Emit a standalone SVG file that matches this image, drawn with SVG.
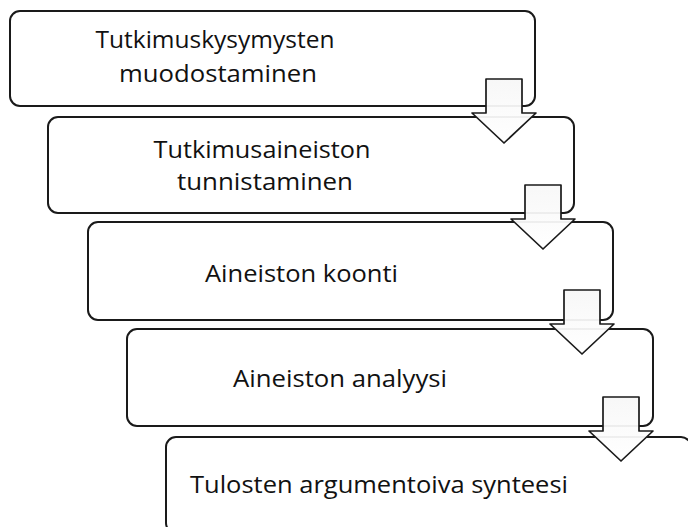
<svg xmlns="http://www.w3.org/2000/svg" xmlns:xlink="http://www.w3.org/1999/xlink" width="688" height="527" viewBox="0 0 688 527">
  <style>
    .box { fill: #ffffff; stroke: #1a1a1a; stroke-width: 2; }
    .label { font-family: "Open Sans", "Liberation Sans", sans-serif; font-size: 23px; fill: #111111; text-anchor: middle; }
    .arrow { fill: url(#arrowFill); fill-opacity: 0.94; stroke: #1a1a1a; stroke-width: 1.7; stroke-linejoin: round; }
  </style>
  <defs>
    <linearGradient id="arrowFill" x1="0" y1="0" x2="0" y2="1">
      <stop offset="0" stop-color="#f7f7f7"/>
      <stop offset="1" stop-color="#ffffff"/>
    </linearGradient>
    <!-- block arrow pointing down, origin at top-left of the shaft -->
    <path id="downArrow" class="arrow" d="M0,0 H36 V34 H50 L18,64 L-14,34 H0 Z"/>
  </defs>

  <g id="step1">
    <rect class="box" x="10" y="11" width="525" height="95" rx="10"/>
    <text class="label" x="215" y="48" textLength="239" lengthAdjust="spacingAndGlyphs">Tutkimuskysymysten</text>
    <text class="label" x="218" y="82" textLength="198" lengthAdjust="spacingAndGlyphs">muodostaminen</text>
  </g>

  <g id="step2">
    <rect class="box" x="48" y="117" width="526" height="96" rx="10"/>
    <text class="label" x="262" y="158" textLength="217" lengthAdjust="spacingAndGlyphs">Tutkimusaineiston</text>
    <text class="label" x="265" y="190" textLength="176" lengthAdjust="spacingAndGlyphs">tunnistaminen</text>
  </g>

  <g id="step3">
    <rect class="box" x="88" y="222" width="525" height="98" rx="10"/>
    <text class="label" x="301.5" y="282" textLength="193" lengthAdjust="spacingAndGlyphs">Aineiston koonti</text>
  </g>

  <g id="step4">
    <rect class="box" x="127" y="329" width="526" height="97" rx="10"/>
    <text class="label" x="340" y="387" textLength="214" lengthAdjust="spacingAndGlyphs">Aineiston analyysi</text>
  </g>

  <g id="step5">
    <rect class="box" x="166" y="437" width="525" height="96" rx="10"/>
    <text class="label" x="379" y="493" textLength="378" lengthAdjust="spacingAndGlyphs">Tulosten argumentoiva synteesi</text>
  </g>

  <g id="connectors">
    <use xlink:href="#downArrow" href="#downArrow" x="486" y="79"/>
    <use xlink:href="#downArrow" href="#downArrow" x="525" y="185"/>
    <use xlink:href="#downArrow" href="#downArrow" x="564" y="290"/>
    <use xlink:href="#downArrow" href="#downArrow" x="603" y="397"/>
  </g>
</svg>
